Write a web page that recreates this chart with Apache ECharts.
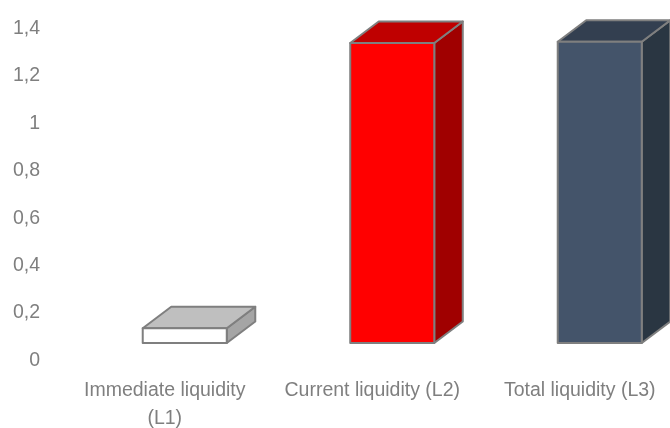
<!DOCTYPE html>
<html>
<head>
<meta charset="utf-8">
<style>html,body{margin:0;padding:0;background:#fff}#c{width:670px;height:428px}</style>
<script src="https://cdn.jsdelivr.net/npm/echarts@6/dist/echarts.min.js"></script>
</head>
<body>
<div id="c"></div>
<script>
const categories = ['Immediate liquidity\n(L1)', 'Current liquidity (L2)', 'Total liquidity (L3)'];
const values = [0.136, 1.339, 1.344];
const floorValue = 0.074;
const frontColors = ['#ffffff', '#ff0000', '#44546a'];
const topColors = ['#bfbfbf', '#bf0000', '#333f50'];
const sideColors = ['#a5a5a5', '#a00000', '#2a3642'];
const edge = '#7f7f7f';
const depthX = 28.5, depthY = 21.5, barRatio = 0.405, barShift = 20;

const chart = echarts.init(document.getElementById('c'), null, {renderer: 'canvas'});
function poly(points, fill) {
  return {type: 'polygon', shape: {points}, style: {fill, stroke: edge, lineWidth: 2, lineJoin: 'round'}};
}
chart.setOption({
  animation: false,
  backgroundColor: '#ffffff',
  grid: {left: 61, top: 28.5, width: 622.5, height: 332, containLabel: false, outerBoundsMode: 'none'},
  xAxis: {
    type: 'category', data: categories,
    axisLine: {show: false}, axisTick: {show: false},
    axisLabel: {interval: 0, color: '#7f7f7f', fontFamily: 'Liberation Sans', fontSize: 19.5, lineHeight: 28, margin: 16.5}
  },
  yAxis: {
    type: 'value', min: 0, max: 1.4, interval: 0.2,
    axisLine: {show: false}, axisTick: {show: false}, splitLine: {show: false},
    axisLabel: {color: '#7f7f7f', fontFamily: 'Liberation Sans', fontSize: 19.5, margin: 21,
      formatter: v => String(+v.toFixed(1)).replace('.', ',')}
  },
  series: [{
    type: 'custom', clip: false,
    data: values.map((v, i) => [i, v]),
    renderItem(params, api) {
      const i = api.value(0);
      const top = api.coord([i, api.value(1)]);
      const bottom = api.coord([i, floorValue]);
      const w = api.size([1, 0])[0] * barRatio;
      const l = top[0] + barShift - w / 2, r = l + w, t = top[1], b = bottom[1];
      return {type: 'group', children: [
        poly([[r, t], [r + depthX, t - depthY], [r + depthX, b - depthY], [r, b]], sideColors[i]),
        poly([[l, t], [l + depthX, t - depthY], [r + depthX, t - depthY], [r, t]], topColors[i]),
        poly([[l, t], [r, t], [r, b], [l, b]], frontColors[i])
      ]};
    }
  }]
});
</script>
</body>
</html>
